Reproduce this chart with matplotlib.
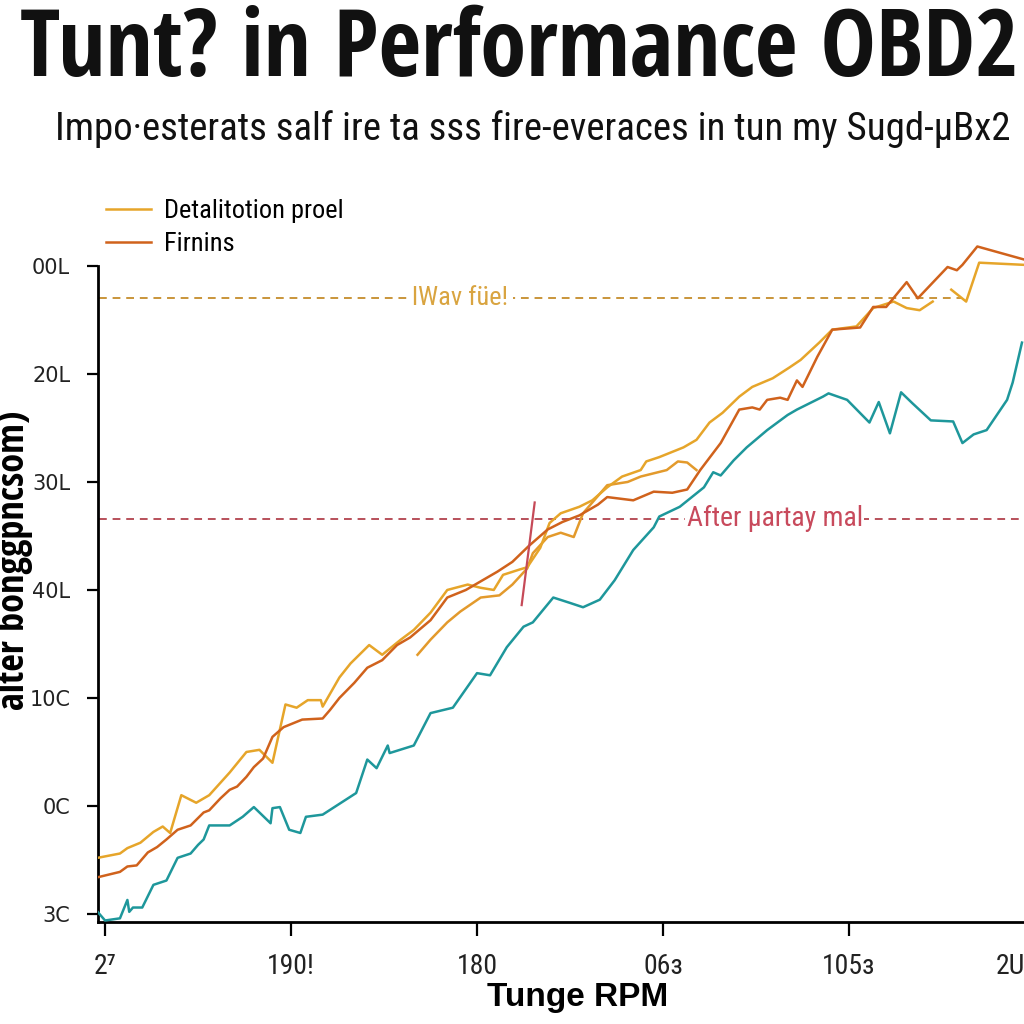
import numpy as np
import matplotlib
matplotlib.use("Agg")
import matplotlib.pyplot as plt
from matplotlib import font_manager
from matplotlib.transforms import ScaledTranslation

nan = np.nan

# x ticks / labels (tick units 0..5), y ticks / labels (0..6)
x_ticks = [0, 1, 2, 3, 4, 5]
x_labels = ["2⁷", "190!", "180", "06з", "105з", "2U"]
y_ticks = [0, 1, 2, 3, 4, 5, 6]
y_labels = ["3C", "0C", "10C", "40L", "30L", "20L", "00L"]

# golden series ("Detalitotion proel")
gold_x = [-0.04, 0.08, 0.12, 0.19, 0.26, 0.31, 0.35, 0.41, 0.49, 0.56, 0.67, 0.76, 0.83, 0.90, 0.97,
          1.03, 1.09, 1.16, 1.17, 1.26, 1.32, 1.42, 1.49, 1.59, 1.66, 1.75, 1.84, 1.95, 2.02, 2.09,
          2.14, 2.23, 2.27, 2.34, 2.39, 2.45, 2.55, 2.62, 2.70, 2.78, 2.88, 2.91, 2.98, 3.11, 3.18,
          3.25, 3.32, 3.41, 3.48, 3.59, 3.68, 3.74, 3.84, 3.91, 4.04, 4.13, 4.24, 4.31, 4.38, 4.45,
          4.50, 4.55, 4.63, 4.70, 4.94]
gold_y = [0.52, 0.56, 0.61, 0.66, 0.76, 0.81, 0.75, 1.10, 1.03, 1.10, 1.31, 1.50, 1.52, 1.40, 1.94,
          1.91, 1.98, 1.98, 1.92, 2.19, 2.32, 2.49, 2.40, 2.54, 2.63, 2.79, 3.00, 3.05, 3.02, 3.00,
          3.14, 3.19, 3.21, 3.39, 3.62, 3.71, 3.77, 3.83, 3.95, 4.05, 4.11, 4.19, 4.23, 4.32, 4.39,
          4.55, 4.64, 4.79, 4.88, 4.96, 5.06, 5.13, 5.29, 5.41, 5.44, 5.61, 5.67, 5.61, 5.59, 5.67,
          nan, 5.78, 5.67, 6.03, 6.01]

# orange series ("Firnins")
orange_x = [-0.04, 0.08, 0.12, 0.17, 0.23, 0.28, 0.33, 0.39, 0.46, 0.53, 0.56, 0.62, 0.67, 0.71, 0.76,
            0.80, 0.85, 0.90, 0.96, 1.06, 1.17, 1.21, 1.26, 1.34, 1.41, 1.49, 1.57, 1.64, 1.75, 1.84,
            1.94, 2.02, 2.11, 2.19, 2.28, 2.38, 2.46, 2.55, 2.65, 2.70, 2.84, 2.95, 3.05, 3.13, 3.20,
            3.31, 3.41, 3.48, 3.52, 3.56, 3.63, 3.67, 3.72, 3.75, 3.83, 3.91, 4.06, 4.13, 4.20, 4.31,
            4.37, 4.53, 4.58, 4.61, 4.69, 4.94]
orange_y = [0.34, 0.39, 0.44, 0.45, 0.57, 0.62, 0.69, 0.78, 0.82, 0.94, 0.96, 1.07, 1.15, 1.18, 1.27,
            1.36, 1.44, 1.64, 1.73, 1.80, 1.81, 1.89, 2.00, 2.14, 2.28, 2.35, 2.49, 2.56, 2.72, 2.93,
            3.00, 3.08, 3.17, 3.26, 3.41, 3.56, 3.63, 3.69, 3.79, 3.86, 3.83, 3.91, 3.90, 3.93, 4.11,
            4.36, 4.67, 4.69, 4.67, 4.76, 4.78, 4.76, 4.94, 4.88, 5.16, 5.41, 5.43, 5.62, 5.62, 5.85,
            5.70, 5.99, 5.96, 6.01, 6.18, 6.06]

# short amber branch (no legend entry)
amber_x = [1.68, 1.75, 1.84, 1.91, 2.02, 2.12, 2.19, 2.27, 2.30, 2.38, 2.45, 2.52, 2.57, 2.70, 2.81,
           2.88, 3.02, 3.08, 3.13, 3.18]
amber_y = [2.40, 2.54, 2.70, 2.80, 2.93, 2.95, 3.05, 3.20, 3.34, 3.49, 3.53, 3.49, 3.71, 3.97, 4.00,
           4.05, 4.11, 4.19, 4.18, 4.11]

# teal series
teal_x = [-0.04, 0.00, 0.08, 0.12, 0.13, 0.15, 0.20, 0.26, 0.33, 0.39, 0.46, 0.50, 0.53, 0.56, 0.67,
          0.74, 0.80, 0.83, 0.89, 0.90, 0.94, 0.99, 1.05, 1.08, 1.17, 1.35, 1.41, 1.46, 1.52, 1.53,
          1.66, 1.75, 1.87, 2.00, 2.07, 2.16, 2.25, 2.30, 2.41, 2.50, 2.57, 2.66, 2.74, 2.84, 2.95,
          2.98, 3.09, 3.22, 3.27, 3.31, 3.38, 3.45, 3.56, 3.67, 3.72, 3.86, 3.89, 3.99, 4.11, 4.16,
          4.22, 4.28, 4.34, 4.44, 4.56, 4.61, 4.67, 4.74, 4.85, 4.88, 4.93]
teal_y = [0.02, -0.06, -0.04, 0.13, 0.02, 0.06, 0.06, 0.27, 0.31, 0.52, 0.56, 0.64, 0.69, 0.82, 0.82,
          0.90, 0.99, 0.94, 0.84, 0.98, 0.99, 0.78, 0.75, 0.90, 0.92, 1.12, 1.43, 1.35, 1.56, 1.49,
          1.56, 1.86, 1.91, 2.23, 2.21, 2.47, 2.66, 2.70, 2.93, 2.88, 2.84, 2.91, 3.09, 3.37, 3.58,
          3.68, 3.77, 3.95, 4.09, 4.06, 4.20, 4.32, 4.48, 4.62, 4.67, 4.79, 4.82, 4.76, 4.55, 4.74,
          4.45, 4.83, 4.73, 4.57, 4.56, 4.36, 4.44, 4.48, 4.76, 4.92, 5.29]

# reference lines
wav_level = 5.70
wav_label = "lWav füe!"
wav_label_x = 1.91
after_level = 3.66
after_label = "After µartay mal"
after_label_x = 3.60
marker_x = [2.31, 2.24]
marker_y = [3.81, 2.86]

legend_labels = ["Detalitotion proel", "Firnins"]

GOLD = "#e6a52a"
ORANGE = "#d0621c"
AMBER = "#e39a2c"
TEAL = "#1e979b"
RED = "#c64a58"


def pick(name, fallback):
    try:
        font_manager.findfont(name, fallback_to_default=False)
        return [name, "DejaVu Sans"]
    except Exception:
        return [fallback, "DejaVu Sans"]


COND_BOLD = pick("Open Sans Condensed", "Liberation Sans")
COND = pick("Roboto Condensed", "Liberation Sans")
SANS = pick("Liberation Sans", "DejaVu Sans")

fig = plt.figure(figsize=(10.24, 10.24), dpi=100)
fig.patch.set_facecolor("white")
ax = fig.add_axes([98 / 1024, 102 / 1024, 942 / 1024, 682 / 1024])

ax.plot(teal_x, teal_y, color=TEAL, lw=1.8, zorder=3)
ax.plot(amber_x, amber_y, color=AMBER, lw=1.8, zorder=3)
l1, = ax.plot(gold_x, gold_y, color=GOLD, lw=1.8, zorder=4)
l2, = ax.plot(orange_x, orange_y, color=ORANGE, lw=1.8, zorder=4)
ax.plot(marker_x, marker_y, color=RED, lw=1.6, zorder=5)

ax.plot([-0.03, 4.6], [wav_level, wav_level], color="#c9953a", lw=1.4, ls=(0, (4, 3)), zorder=2)
ax.plot([-0.03, 5.03], [after_level, after_level], color="#b8505a", lw=1.4, ls=(0, (4, 3)), zorder=2)
ax.text(wav_label_x, wav_level, wav_label, color="#d9a440", fontsize=19, family=COND,
        ha="center", va="center", zorder=6,
        bbox=dict(facecolor="white", edgecolor="none", pad=3))
ax.text(after_label_x, after_level, after_label, color="#c84a5c", fontsize=20, family=COND,
        ha="center", va="center", zorder=6,
        bbox=dict(facecolor="white", edgecolor="none", pad=1))

ax.set_xlim(-0.038, 5.027)
ax.set_ylim(-0.074, 6.24)
ax.set_xticks(x_ticks)
ax.set_xticklabels(x_labels, family=COND, fontsize=20, color="#222222")
ax.set_yticks(y_ticks)
ax.set_yticklabels(y_labels, family="DejaVu Sans", fontsize=15, color="#222222")
ax.tick_params(axis="x", length=10, width=1.6, pad=12)
ax.tick_params(axis="y", length=8, width=1.6, pad=12)
for s in ["top", "right"]:
    ax.spines[s].set_visible(False)
ax.spines["left"].set_linewidth(2)
ax.spines["bottom"].set_linewidth(2)
ax.spines["left"].set_bounds(-0.074, 6)

# last x label sits just inside the right edge, as in the reference
last = ax.get_xticklabels()[-1]
last.set_transform(last.get_transform() + ScaledTranslation(-0.25, 0, fig.dpi_scale_trans))

ax.set_xlabel("Tunge RPM", family=SANS, fontweight="bold", fontsize=24)
ax.xaxis.set_label_coords((578 - 98) / 942, -(982 - 922) / 682)
ax.set_ylabel("alter bonggpncsom)", family=COND_BOLD, fontweight="bold", fontsize=27.5)
ax.yaxis.set_label_coords(-(98 - 33) / 942, (922 - 560) / 682)

fig.legend([l1, l2], legend_labels, loc="upper left", bbox_to_anchor=(106 / 1024, 1 - 199 / 1024),
           frameon=False, prop=dict(family=COND, size=19), handlelength=1.7, handletextpad=0.5,
           labelspacing=0.35, borderpad=0, borderaxespad=0)

fig.text(20 / 1024, 1 - 76 / 1024, "Tunt? in Performance OBD2", family=COND_BOLD, fontweight="bold",
         fontsize=67, color="#111111", ha="left", va="baseline")
fig.text(55 / 1024, 1 - 140 / 1024,
         "Impo·esterats salf ire ta sss fire-everaces in tun my Sugd-µBx2",
         family=COND, fontsize=28, color="#111111", ha="left", va="baseline")

fig.savefig("out.png", dpi=100, facecolor="white")
